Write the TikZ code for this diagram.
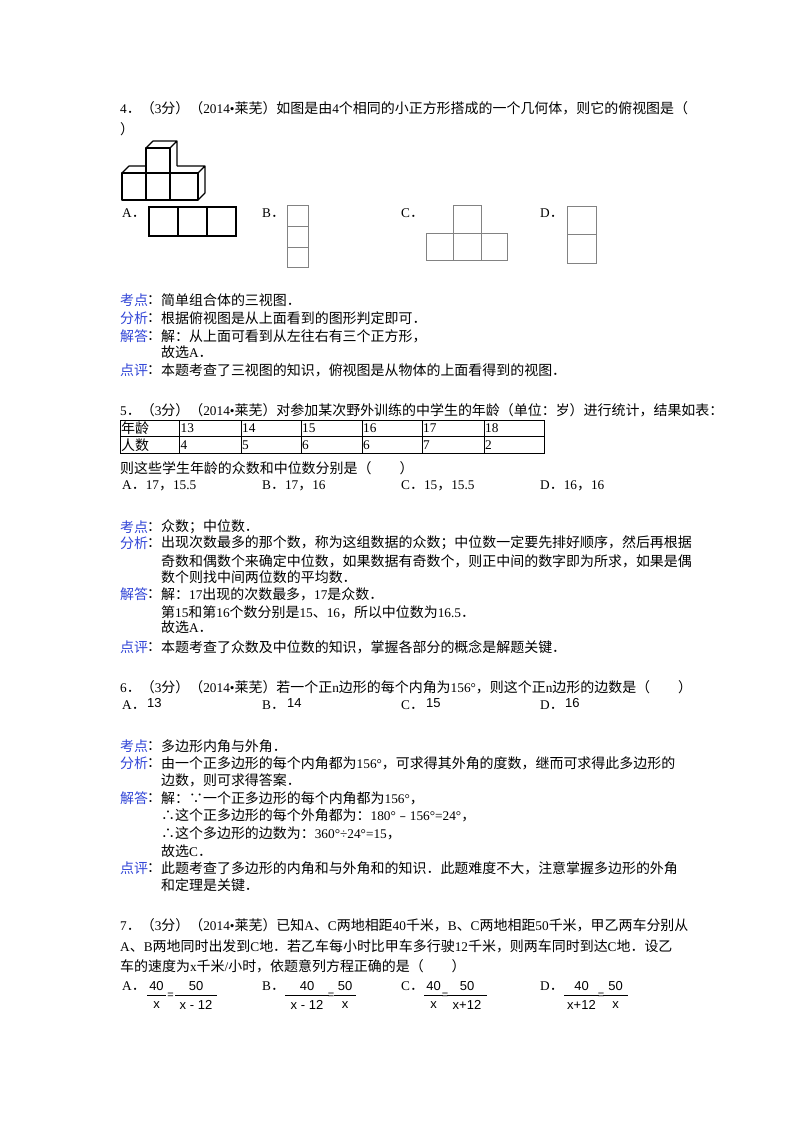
\documentclass[tikz,border=0pt]{standalone}
\usepackage{fontspec}
\setmainfont{Liberation Serif}
\setsansfont{Liberation Sans}
\newfontfamily\cjk[Scale=1.05]{Noto Sans CJK SC}
\newcount\cc
\def\setcls#1#2{\cc=#1 \loop\XeTeXcharclass\cc=7 \ifnum\cc<#2 \advance\cc by 1 \repeat}
\setcls{"4E00}{"9FFF}\setcls{"3000}{"303F}\setcls{"FF00}{"FFEF}\setcls{"FE30}{"FE6F}\setcls{"2234}{"2235}
\XeTeXinterchartokenstate=1
\XeTeXinterchartoks 0 7 = {\cjk}
\XeTeXinterchartoks 4095 7 = {\cjk}
\XeTeXinterchartoks 7 0 = {\rmfamily}
\XeTeXinterchartoks 7 4095 = {\rmfamily}
\definecolor{lab}{RGB}{50,70,215}
\definecolor{gr}{RGB}{130,130,130}
\tikzset{txt/.style={anchor=west,inner sep=0pt,font=\fontsize{13.3}{15}\selectfont},
 fr/.style={inner sep=0pt,font=\sffamily\fontsize{13}{15}\selectfont},
 eq/.style={inner sep=0pt,font=\sffamily\fontsize{11}{12}\selectfont},
 cube/.style={line width=1.1pt,line join=round},
 opa/.style={line width=1.3pt},
 opg/.style={line width=1pt,draw=gr}}
\newcommand\qT[3]{\node[txt] at (#1,#2) {#3};}
\newcommand\qL[3]{\node[txt,text=lab] at (120,#1) {#2};\node[txt] at (147,#1) {：};\node[txt] at (161,#1) {#3};}
\newcommand\qF[5]{%
 \node[fr] at (#3,986) {#4};\node[fr] at (#3,1005) {#5};\draw[line width=0.8pt] (#1,995) -- (#2,995);}
\begin{document}
\begin{tikzpicture}[x=1pt,y=-1pt]
\useasboundingbox[fill=white] (0,0) rectangle (800,1132);
% Q4
\qT{120}{108}{4．（3分）（2014•莱芜）如图是由4个相同的小正方形搭成的一个几何体，则它的俯视图是（}
\qT{120}{129}{）}
\draw[cube] (122,173) rectangle (198,200) (146,173)--(146,200) (170,173)--(170,200);
\draw[cube] (146,148) rectangle (170,173);
\draw[cube] (146,148)--(153,141)--(177,141)--(170,148) (177,141)--(177,166);
\draw[cube] (122,173)--(129,166)--(146,166);
\draw[cube] (177,166)--(205,166)--(198,173) (205,166)--(205,193)--(198,200);
\qT{122}{213}{A．}
\draw[opa] (149,207) rectangle (236,236) (178,207)--(178,236) (207,207)--(207,236);
\qT{262}{213}{B．}
\draw[opg] (287,205) rectangle (308,267) (287,226)--(308,226) (287,247)--(308,247);
\qT{401}{213}{C．}
\draw[opg] (453,205) rectangle (481,233) (426,233) rectangle (507,260) (453,233)--(453,260) (481,233)--(481,260);
\qT{540}{213}{D．}
\draw[opg] (567,206) rectangle (596,263) (567,234)--(596,234);
\qL{300}{考点}{简单组合体的三视图．}
\qL{318}{分析}{根据俯视图是从上面看到的图形判定即可．}
\qL{336}{解答}{解：从上面可看到从左往右有三个正方形，}
\qT{161}{352}{故选A．}
\qL{370}{点评}{本题考查了三视图的知识，俯视图是从物体的上面看得到的视图．}
% Q5
\qT{120}{410}{5．（3分）（2014•莱芜）对参加某次野外训练的中学生的年龄（单位：岁）进行统计，结果如表：}
\draw[line width=1pt] (120,420) rectangle (544,453) (120,436)--(544,436);
\foreach \x in {179.5,241,301,362,422,484} \draw[line width=1pt] (\x,420)--(\x,453);
\qT{121}{428}{年龄}\qT{121}{445}{人数}
\foreach \x/\a/\b in {180.5/13/4,242/14/5,302/15/6,363/16/6,423/17/7,485/18/2}
 {\node[txt] at (\x,428) {\a};\node[txt] at (\x,445) {\b};}
\qT{120}{468}{则这些学生年龄的众数和中位数分别是（　　）}
\qT{122}{486}{A．17，15.5}\qT{262}{486}{B．17，16}\qT{401}{486}{C．15，15.5}\qT{540}{486}{D．16，16}
\qL{527}{考点}{众数；中位数．}
\qL{543}{分析}{出现次数最多的那个数，称为这组数据的众数；中位数一定要先排好顺序，然后再根据}
\qT{161}{561}{奇数和偶数个来确定中位数，如果数据有奇数个，则正中间的数字即为所求，如果是偶}
\qT{161}{577}{数个则找中间两位数的平均数．}
\qL{594}{解答}{解：17出现的次数最多，17是众数．}
\qT{161}{612}{第15和第16个数分别是15、16，所以中位数为16.5．}
\qT{161}{627}{故选A．}
\qL{647}{点评}{本题考查了众数及中位数的知识，掌握各部分的概念是解题关键．}
% Q6
\qT{120}{687}{6．（3分）（2014•莱芜）若一个正n边形的每个内角为156°，则这个正n边形的边数是（　　）}
\qT{122}{705}{A．}\node[fr,anchor=west] at (147,703) {13};
\qT{262}{705}{B．}\node[fr,anchor=west] at (287,703) {14};
\qT{401}{705}{C．}\node[fr,anchor=west] at (426,703) {15};
\qT{540}{705}{D．}\node[fr,anchor=west] at (565,703) {16};
\qL{746}{考点}{多边形内角与外角．}
\qL{763}{分析}{由一个正多边形的每个内角都为156°，可求得其外角的度数，继而可求得此多边形的}
\qT{161}{780}{边数，则可求得答案．}
\qL{798}{解答}{解：∵一个正多边形的每个内角都为156°，}
\qT{161}{815}{∴这个正多边形的每个外角都为：180°﹣156°=24°，}
\qT{161}{833}{∴这个多边形的边数为：360°÷24°=15，}
\qT{161}{851}{故选C．}
\qL{868}{点评}{此题考查了多边形的内角和与外角和的知识．此题难度不大，注意掌握多边形的外角}
\qT{161}{885}{和定理是关键．}
% Q7
\qT{120}{925}{7．（3分）（2014•莱芜）已知A、C两地相距40千米，B、C两地相距50千米，甲乙两车分别从}
\qT{120}{946}{A、B两地同时出发到C地．若乙车每小时比甲车多行驶12千米，则两车同时到达C地．设乙}
\qT{120}{966}{车的速度为x千米/小时，依题意列方程正确的是（　　）}
\qT{122}{986}{A．}\qF{147}{166}{156.5}{40}{x}\node[eq] at (170.5,996) {=};\qF{175}{217}{196}{50}{x - 12}
\qT{262}{986}{B．}\qF{285}{329}{307}{40}{x - 12}\node[eq] at (331,996) {=};\qF{334}{356}{345}{50}{x}
\qT{401}{986}{C．}\qF{424}{443}{433.5}{40}{x}\node[eq] at (445,996) {=};\qF{447}{487}{467}{50}{x+12}
\qT{540}{986}{D．}\qF{564}{599}{581.5}{40}{x+12}\node[eq] at (601,996) {=};\qF{603}{628}{615.5}{50}{x}
\end{tikzpicture}
\end{document}
